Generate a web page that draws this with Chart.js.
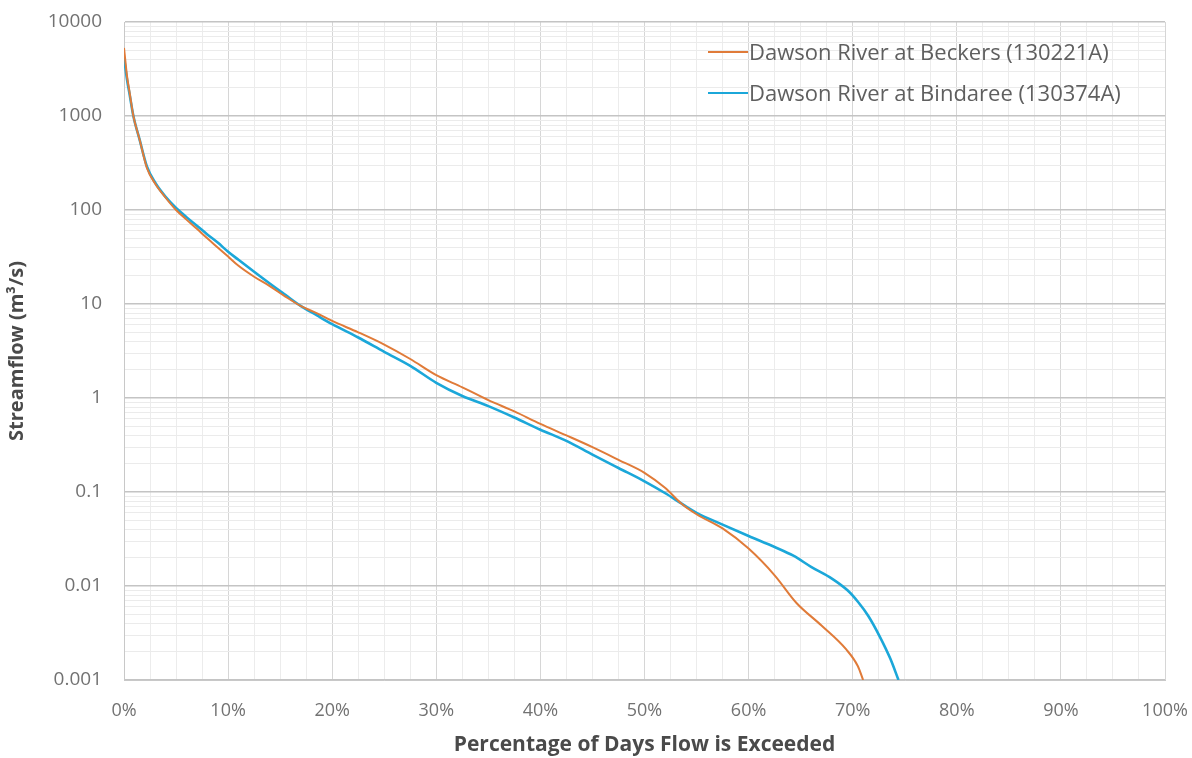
<!DOCTYPE html>
<html>
<head>
<meta charset="utf-8">
<script src="https://cdn.jsdelivr.net/npm/chart.js@4.4.1/dist/chart.umd.min.js"></script>
<style>
  html, body { margin: 0; padding: 0; background: #ffffff; }
  #wrap { position: relative; width: 1192px; height: 758px; }
  #legend {
    position: absolute; left: 708px; top: 31px;
    font-family: "Open Sans", Lato, sans-serif; font-size: 22px; color: #5f5f5f;
    line-height: 41px;
  }
  #legend .row { display: flex; align-items: center; white-space: nowrap; }
  #legend .swatch { display: inline-block; width: 40px; margin-right: 1px; }
</style>
</head>
<body>
<div id="wrap">
  <canvas id="c" width="1192" height="758"></canvas>
  <div id="legend"></div>
</div>
<script>
// Flow duration curves: percentage of days flow is exceeded vs streamflow (m3/s)
const seriesNames = ['Dawson River at Beckers (130221A)', 'Dawson River at Bindaree (130374A)'];
const seriesColors = ['#E07B39', '#1BA7D9'];
const seriesWidths = [2, 2.6];

const beckersPct = [0, 0.3, 0.5, 0.9, 1.5, 2.2, 3.0, 4.0, 5.0, 6.0, 7.0, 8.0, 9.0, 10.0, 11.0, 12.5, 14.0, 15.5, 17.0, 18.5, 20.0, 22.5, 25.0, 27.5, 30.0, 32.5, 35.0, 37.5, 40.0, 42.5, 45.0, 47.5, 50.0, 52.0, 53.5, 55.0, 57.5, 60.0, 62.5, 64.6, 67.0, 69.4, 70.5, 71.0];
const beckersFlow = [5300, 2600, 1900, 1000, 560, 280, 190, 135, 100, 79, 63, 50, 40, 32, 25.5, 19.5, 15.5, 12, 9.5, 8, 6.6, 5, 3.7, 2.6, 1.75, 1.3, 0.95, 0.72, 0.53, 0.4, 0.3, 0.22, 0.16, 0.11, 0.076, 0.058, 0.041, 0.025, 0.013, 0.0066, 0.0038, 0.0021, 0.0014, 0.001];

const bindareePct = [0, 0.3, 0.5, 0.9, 1.5, 2.2, 3.0, 4.0, 5.0, 6.0, 7.0, 8.0, 9.0, 10.0, 11.0, 12.5, 14.0, 15.5, 17.0, 18.5, 20.0, 22.5, 25.0, 27.5, 30.0, 32.5, 35.0, 37.5, 40.0, 42.5, 45.0, 47.5, 50.0, 52.0, 53.5, 55.0, 57.5, 60.0, 62.5, 64.3, 66.0, 68.0, 69.5, 70.5, 71.5, 72.6, 73.6, 74.4];
const bindareeFlow = [4200, 2400, 1800, 1000, 560, 290, 195, 138, 105, 84, 68, 55, 45, 36, 29.5, 22, 16.5, 12.5, 9.5, 7.6, 6.1, 4.4, 3.1, 2.2, 1.45, 1.05, 0.82, 0.62, 0.46, 0.35, 0.25, 0.18, 0.13, 0.097, 0.076, 0.06, 0.045, 0.034, 0.026, 0.021, 0.016, 0.012, 0.009, 0.0068, 0.0048, 0.0029, 0.0017, 0.001];

// Axis ticks
const yDecades = [0.001, 0.01, 0.1, 1, 10, 100, 1000, 10000];
const yTickLabels = ['0.001', '0.01', '0.1', '1', '10', '100', '1000', '10000'];
const xMajor = [0, 10, 20, 30, 40, 50, 60, 70, 80, 90, 100];
const xTickLabels = ['0%', '10%', '20%', '30%', '40%', '50%', '60%', '70%', '80%', '90%', '100%'];
const xMinorStep = 2.5;

function toPoints(xs, ys) { return xs.map((x, i) => ({ x: x, y: ys[i] })); }

// log ticks: every 1..9 multiple within each decade
const yTickValues = [];
yDecades.forEach((d, i) => {
  if (i === yDecades.length - 1) { yTickValues.push(d); return; }
  for (let m = 1; m <= 9; m++) yTickValues.push(parseFloat((m * d).toPrecision(3)));
});
const xTickValues = [];
for (let v = 0; v <= 100 + 1e-9; v += xMinorStep) xTickValues.push(+v.toFixed(2));

const isDecade = v => yDecades.some(d => Math.abs(d - v) / d < 1e-6);
const isXMajor = v => xMajor.some(m => Math.abs(m - v) < 1e-6);

const fontFam = '"Open Sans", Lato, sans-serif';

const chart = new Chart(document.getElementById('c'), {
  type: 'line',
  data: {
    datasets: [
      { label: seriesNames[0], data: toPoints(beckersPct, beckersFlow), borderColor: seriesColors[0], borderWidth: seriesWidths[0], pointRadius: 0, cubicInterpolationMode: 'monotone', fill: false },
      { label: seriesNames[1], data: toPoints(bindareePct, bindareeFlow), borderColor: seriesColors[1], borderWidth: seriesWidths[1], pointRadius: 0, cubicInterpolationMode: 'monotone', fill: false }
    ]
  },
  options: {
    responsive: false,
    devicePixelRatio: 1,
    animation: false,
    layout: { padding: { top: 22, right: 27, left: 0, bottom: 0 } },
    plugins: { legend: { display: false }, tooltip: { enabled: false } },
    scales: {
      x: {
        type: 'linear', min: 0, max: 100,
        afterBuildTicks: s => { s.ticks = xTickValues.map(v => ({ value: v })); },
        afterFit: s => { s.height = 78; s.paddingLeft = 0; s.paddingRight = 0; },
        ticks: {
          autoSkip: false, maxRotation: 0, padding: 20,
          color: '#727272', font: { family: fontFam, size: 18 },
          callback: v => { const i = xMajor.findIndex(m => Math.abs(m - v) < 1e-6); return i >= 0 ? xTickLabels[i] : ''; }
        },
        grid: {
          drawTicks: false,
          color: c => isXMajor(c.tick.value) ? '#d6d6d6' : '#ececec',
          lineWidth: 1
        },
        border: { color: '#c8c8c8' },
        title: {
          display: true, text: 'Percentage of Days Flow is Exceeded',
          color: '#4a4a4a', font: { family: fontFam, size: 21, weight: 'bold' },
          padding: { top: 0, bottom: 0 }
        }
      },
      y: {
        type: 'logarithmic', min: 0.001, max: 10000,
        afterBuildTicks: s => { s.ticks = yTickValues.map(v => ({ value: v })); },
        afterFit: s => { s.width = 124; s.paddingTop = 0; s.paddingBottom = 0; },
        ticks: {
          autoSkip: false, padding: 22,
          color: '#727272', font: { family: fontFam, size: 19 },
          callback: v => { const i = yDecades.findIndex(d => Math.abs(d - v) / d < 1e-6); return i >= 0 ? yTickLabels[i] : ''; }
        },
        grid: {
          drawTicks: false,
          color: c => isDecade(c.tick.value) ? '#c4c4c4' : '#ebebeb',
          lineWidth: c => isDecade(c.tick.value) ? 1.5 : 1
        },
        border: { color: '#c8c8c8' },
        title: {
          display: true, text: 'Streamflow (m³/s)',
          color: '#4a4a4a', font: { family: fontFam, size: 20, weight: 'bold' },
          padding: { top: 5, bottom: 0 }
        }
      }
    }
  }
});

// HTML legend inside the plot area
const legend = document.getElementById('legend');
seriesNames.forEach((name, i) => {
  const row = document.createElement('div');
  row.className = 'row';
  const sw = document.createElement('span');
  sw.className = 'swatch';
  sw.style.borderTop = seriesWidths[i] + 'px solid ' + seriesColors[i];
  const t = document.createElement('span');
  t.textContent = name;
  row.appendChild(sw); row.appendChild(t);
  legend.appendChild(row);
});
</script>
</body>
</html>
